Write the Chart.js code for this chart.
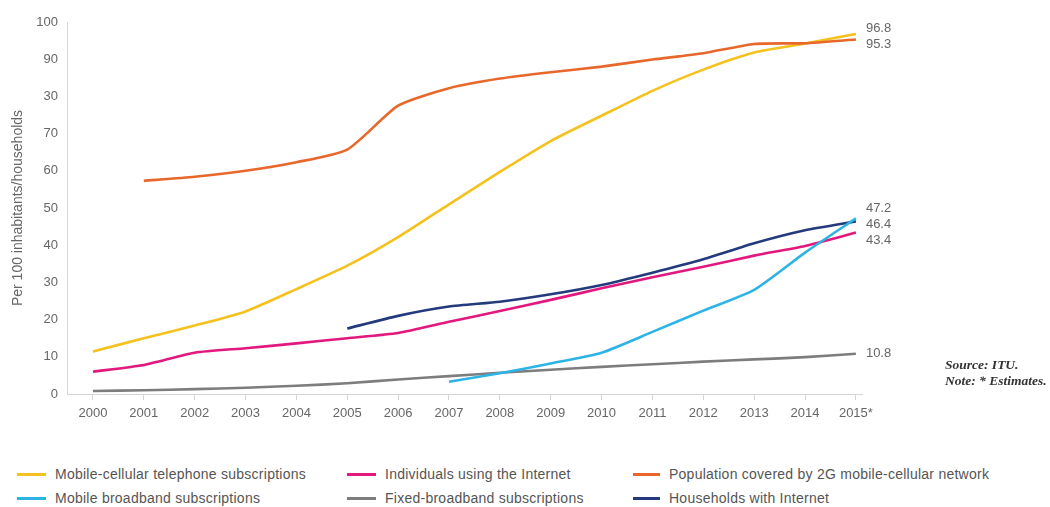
<!DOCTYPE html>
<html>
<head>
<meta charset="utf-8">
<title>ICT indicators 2000-2015</title>
<script src="https://cdn.jsdelivr.net/npm/chart.js@4.4.1/dist/chart.umd.min.js"></script>
<style>
  body { margin: 0; background: #fff; font-family: "Liberation Sans", Arial, sans-serif; }
  #wrap { position: relative; width: 1050px; height: 507px; overflow: hidden; }
  #chart { position: absolute; left: 0; top: 0; }
  .legend-item { position: absolute; display: flex; align-items: center; font-size: 14px; letter-spacing: 0.25px; color: #555; white-space: nowrap; }
  .legend-item .swatch { display: inline-block; height: 3px; margin-right: 9px; }
  .note { position: absolute; left: 945px; font-family: "Liberation Serif", "DejaVu Serif", serif;
          font-style: italic; font-weight: bold; font-size: 13.5px; color: #333; }
</style>
</head>
<body>
<div id="wrap">
  <canvas id="chart" width="1050" height="440"></canvas>
  <div id="legend"></div>
  <div class="note" style="top:357px">Source: ITU.</div>
  <div class="note" style="top:373px">Note: * Estimates.</div>
</div>
<script>
// Years on the x axis and their printed labels
const years = [2000, 2001, 2002, 2003, 2004, 2005, 2006, 2007, 2008, 2009, 2010, 2011, 2012, 2013, 2014, 2015];
const yearLabels = ['2000', '2001', '2002', '2003', '2004', '2005', '2006', '2007', '2008', '2009', '2010', '2011', '2012', '2013', '2014', '2015*'];
const yTickLabels = ['0', '10', '20', '30', '40', '50', '60', '70', '30', '90', '100'];

// Per 100 inhabitants / households
const mobileCellular = [11.4, 15.0, 18.4, 22.2, 28.2, 34.5, 42.2, 51.0, 59.7, 68.0, 74.8, 81.5, 87.2, 91.8, 94.2, 96.8];
const internetUsers = [6.0, 7.8, 11.1, 12.3, 13.6, 15.0, 16.4, 19.4, 22.3, 25.3, 28.4, 31.4, 34.2, 37.2, 39.8, 43.4];
const coverage2G = [null, 57.3, 58.4, 60.0, 62.3, 65.7, 77.5, 82.2, 84.8, 86.5, 88.0, 89.9, 91.6, 94.1, 94.3, 95.3];
const mobileBroadband = [null, null, null, null, null, null, null, 3.3, 5.6, 8.2, 11.1, 16.7, 22.4, 28.0, 38.0, 47.2];
const fixedBroadband = [0.8, 1.0, 1.3, 1.7, 2.2, 2.9, 3.9, 4.8, 5.7, 6.5, 7.3, 8.0, 8.7, 9.3, 9.9, 10.8];
const householdsInternet = [null, null, null, null, null, 17.6, 21.0, 23.5, 24.8, 26.8, 29.3, 32.6, 36.2, 40.5, 44.0, 46.4];

const series = [
  { label: 'Mobile-cellular telephone subscriptions', data: mobileCellular, color: '#f5c21d' },
  { label: 'Mobile broadband subscriptions', data: mobileBroadband, color: '#2db4e6' },
  { label: 'Individuals using the Internet', data: internetUsers, color: '#e2187f' },
  { label: 'Fixed-broadband subscriptions', data: fixedBroadband, color: '#7d7d7d' },
  { label: 'Population covered by 2G mobile-cellular network', data: coverage2G, color: '#e8682c' },
  { label: 'Households with Internet', data: householdsInternet, color: '#233a7c' }
];

// Legend layout: three columns, two rows
const legendCols = [17, 347, 633];
const legendRows = [466, 490];
const legendEl = document.getElementById('legend');
series.forEach((s, i) => {
  const item = document.createElement('div');
  item.className = 'legend-item';
  item.style.left = legendCols[Math.floor(i / 2)] + 'px';
  item.style.top = legendRows[i % 2] + 'px';
  const sw = document.createElement('span');
  sw.className = 'swatch';
  sw.style.width = (i >= 4 ? 27 : 29) + 'px';
  sw.style.background = s.color;
  item.appendChild(sw);
  item.appendChild(document.createTextNode(s.label));
  legendEl.appendChild(item);
});

// Value labels at the right end of each line, spread so they do not overlap
const endLabels = {
  id: 'endLabels',
  afterDatasetsDraw(chart) {
    const { ctx, scales: { x, y } } = chart;
    const items = chart.data.datasets.map(ds => {
      const v = ds.data[ds.data.length - 1];
      return { text: v.toFixed(1), y: y.getPixelForValue(v) };
    }).sort((a, b) => a.y - b.y);

    const gap = 16;
    const groups = [];
    items.forEach(it => {
      const g = groups[groups.length - 1];
      if (g && it.y - g[g.length - 1].y < gap) g.push(it);
      else groups.push([it]);
    });
    groups.forEach(g => {
      const mean = g.reduce((s, it) => s + it.y, 0) / g.length;
      g.forEach((it, i) => { it.ly = mean + (i - (g.length - 1) / 2) * gap; });
    });

    const lx = x.getPixelForValue(years[years.length - 1]) + 10;
    ctx.save();
    ctx.font = '13px "Liberation Sans", Arial, sans-serif';
    ctx.fillStyle = '#666';
    ctx.textAlign = 'left';
    ctx.textBaseline = 'middle';
    items.forEach(it => ctx.fillText(it.text, lx, it.ly));
    ctx.restore();
  }
};

const axisColor = '#d6d6d6';
const tickFont = { family: '"Liberation Sans", Arial, sans-serif', size: 13 };

new Chart(document.getElementById('chart'), {
  type: 'line',
  data: {
    labels: years,
    datasets: series.map((s, i) => ({
      label: s.label,
      data: s.data,
      borderColor: s.color,
      backgroundColor: s.color,
      borderWidth: 2.6,
      pointRadius: 0,
      tension: 0.2,
      fill: false,
      order: i === 4 ? 0 : i + 1
    }))
  },
  options: {
    responsive: false,
    animation: false,
    devicePixelRatio: 1,
    layout: { padding: { left: 0, right: 188, top: 22, bottom: 0 } },
    plugins: { legend: { display: false }, tooltip: { enabled: false } },
    scales: {
      x: {
        type: 'linear',
        min: 1999.49,
        max: 2015.12,
        afterBuildTicks: scale => { scale.ticks = years.map(v => ({ value: v })); },
        afterFit: scale => { scale.height = 46; },
        ticks: {
          autoSkip: false,
          maxRotation: 0,
          padding: 6,
          color: '#666',
          font: tickFont,
          callback: v => yearLabels[years.indexOf(v)]
        },
        grid: { drawOnChartArea: false, drawTicks: true, tickLength: 6, color: axisColor },
        border: { color: axisColor }
      },
      y: {
        min: 0,
        max: 100,
        afterBuildTicks: scale => { scale.ticks = yTickLabels.map((t, i) => ({ value: i * 10 })); },
        afterFit: scale => { scale.width = 67; },
        ticks: {
          padding: 9,
          color: '#666',
          font: tickFont,
          callback: (v, i) => yTickLabels[i]
        },
        grid: { drawOnChartArea: false, drawTicks: false },
        border: { color: axisColor },
        title: {
          display: true,
          text: 'Per 100 inhabitants/households',
          color: '#666',
          font: { family: '"Liberation Sans", Arial, sans-serif', size: 14 },
          padding: { top: 10, bottom: 0 }
        }
      }
    }
  },
  plugins: [endLabels]
});
</script>
</body>
</html>
